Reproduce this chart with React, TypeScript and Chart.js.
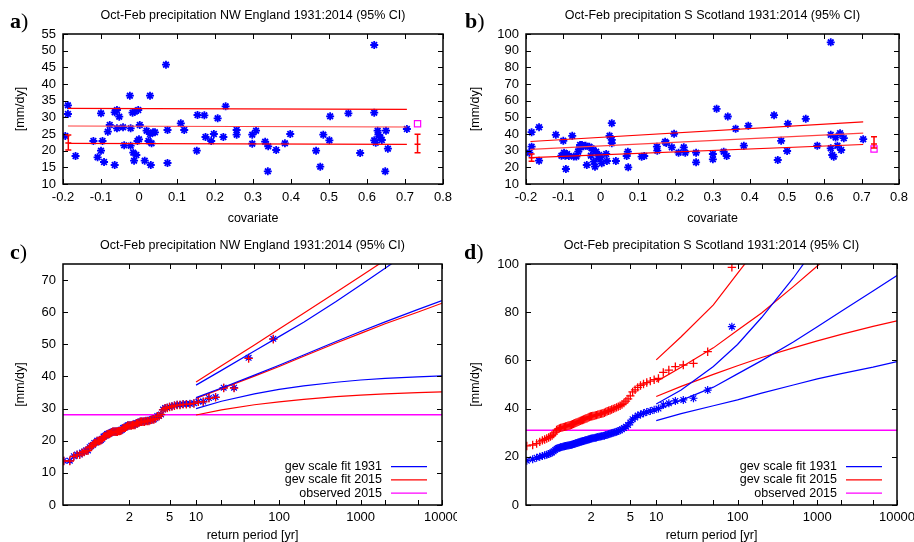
import React, { useEffect, useRef } from 'react';
import { Chart, registerables, LinearScale } from 'chart.js';

// ---------------- shared style ----------------
const FONT = "'Liberation Sans', Arial, Helvetica, sans-serif";
const FS = 12.5;
const TICK_FS = 13;
const BLUE = '#0000ff';
const RED = '#ff0000';
const RED_MID = '#ff4040';
const MAGENTA = '#ff00ff';

// ---------------- panel a: NW England, precipitation vs covariate ----------------
const nweCovariate = [
  -0.194, -0.187, -0.187, -0.167, -0.12, -0.109, -0.1, -0.1, -0.096, -0.092,
  -0.082, -0.077, -0.064, -0.064, -0.058, -0.058, -0.052, -0.042, -0.039, -0.024,
  -0.022, -0.022, -0.017, -0.015, -0.013, -0.011, -0.007, -0.002, -0.004, 0.0,
  0.002, 0.015, 0.02, 0.025, 0.029, 0.029, 0.031, 0.033, 0.037, 0.042,
  0.071, 0.075, 0.075, 0.11, 0.119, 0.152, 0.154, 0.172, 0.175, 0.19,
  0.197, 0.207, 0.222, 0.228, 0.257, 0.257, 0.298, 0.298, 0.308, 0.332,
  0.339, 0.34, 0.361, 0.384, 0.398, 0.466, 0.477, 0.485, 0.501, 0.503,
  0.551, 0.582, 0.619, 0.619, 0.619, 0.623, 0.628, 0.63, 0.635, 0.639,
  0.648, 0.65, 0.655, 0.705,
];
const nwePrecip = [
  24.4, 33.6, 31.0, 18.4, 22.9, 18.0, 31.2, 20.0, 22.9, 16.6,
  25.7, 27.7, 15.7, 31.5, 32.2, 26.7, 30.2, 27.0, 21.6, 36.5,
  26.7, 21.5, 31.4, 19.4, 17.0, 31.7, 18.7, 32.2, 22.9, 23.4,
  27.7, 17.0, 26.0, 22.9, 36.5, 25.0, 15.7, 22.2, 25.5, 25.5,
  45.8, 26.2, 16.3, 28.2, 26.2, 20.0, 30.7, 30.6, 24.1, 22.9,
  25.0, 29.7, 24.1, 33.3, 26.2, 24.8, 24.8, 22.1, 26.0, 22.7,
  13.8, 21.3, 20.2, 22.2, 25.0, 20.0, 15.2, 24.8, 23.1, 30.3,
  31.2, 19.3, 51.7, 31.4, 23.1, 22.4, 26.0, 24.8, 24.0, 23.2,
  13.8, 26.0, 20.6, 26.5,
];
const nweFitCov = [-0.187, 0.705];
const nweFitUpper = [32.7, 32.4];
const nweFitMid = [27.4, 27.1];
const nweFitLower = [22.2, 21.9];
const nweErrCov = [-0.186, 0.733];
const nweErrLow = [20.2, 19.4];
const nweErrMid = [22.3, 21.9];
const nweErrHigh = [24.7, 24.9];
const cov2015 = 0.733;
const nweObs2015 = 28.1;

// ---------------- panel b: S Scotland, precipitation vs covariate ----------------
const sscCovariate = [
  -0.191, -0.185, -0.185, -0.165, -0.165, -0.12, -0.1, -0.105, -0.098, -0.095,
  -0.093, -0.09, -0.085, -0.076, -0.072, -0.065, -0.06, -0.058, -0.055, -0.05,
  -0.046, -0.037, -0.03, -0.024, -0.02, -0.018, -0.015, -0.012, -0.006, -0.004,
  0.003, 0.015, 0.017, 0.024, 0.03, 0.03, 0.03, 0.041, 0.07, 0.073,
  0.074, 0.11, 0.117, 0.151, 0.152, 0.173, 0.176, 0.191, 0.197, 0.209,
  0.223, 0.227, 0.256, 0.256, 0.301, 0.301, 0.311, 0.33, 0.338, 0.341,
  0.362, 0.384, 0.396, 0.465, 0.475, 0.484, 0.5, 0.502, 0.55, 0.581,
  0.617, 0.617, 0.617, 0.621, 0.625, 0.63, 0.635, 0.642, 0.645, 0.652,
  0.704, -0.04, 0.0, -0.026,
];
const sscPrecip = [
  28.8, 32.4, 41.1, 44.1, 24.0, 39.5, 35.9, 27.0, 28.8, 27.0,
  19.0, 28.0, 26.8, 38.9, 26.5, 26.5, 29.4, 30.8, 33.4, 33.4,
  32.6, 21.4, 32.4, 31.4, 30.4, 23.4, 20.4, 29.4, 25.4, 27.4,
  22.4, 28.0, 23.8, 38.9, 46.5, 36.5, 34.5, 23.8, 26.8, 29.4,
  20.0, 26.4, 26.8, 32.4, 30.0, 35.4, 34.6, 32.0, 40.1, 28.8,
  32.0, 28.8, 28.8, 23.0, 28.0, 24.8, 55.1, 29.4, 26.8, 50.5,
  43.1, 33.0, 44.9, 51.3, 24.4, 35.9, 29.8, 46.1, 49.1, 33.0,
  95.0, 39.5, 31.4, 27.4, 26.4, 37.9, 33.0, 40.5, 30.4, 37.5,
  36.9, 33.0, 26.0, 27.0,
];
const sscFitCov = [-0.188, 0.704];
const sscFitUpper = [35.5, 47.3];
const sscFitMid = [30.8, 40.5];
const sscFitLower = [25.8, 33.7];
const sscErrCov = [-0.185, 0.733];
const sscErrLow = [23.6, 31.6];
const sscErrMid = [25.8, 34.0];
const sscErrHigh = [28.0, 38.4];
const sscObs2015 = 31.0;

// ---------------- axes ----------------
const covTicks = [-0.2, -0.1, 0, 0.1, 0.2, 0.3, 0.4, 0.5, 0.6, 0.7, 0.8];
const nweYTicks = [10, 15, 20, 25, 30, 35, 40, 45, 50, 55];
const sscYTicks = [10, 20, 30, 40, 50, 60, 70, 80, 90, 100];
const nweRetYTicks = [0, 10, 20, 30, 40, 50, 60, 70];
const sscRetYTicks = [0, 20, 40, 60, 80, 100];
const returnTicks = [2, 5, 10, 20, 50, 100, 200, 500, 1000, 2000, 5000, 10000];
const returnLabelled = [2, 5, 10, 100, 1000, 10000];
const returnAxisMin = 1.0107;
const returnAxisMax = 10000;

// ---------------- panels c, d: return level plots ----------------
// sorted observed values (largest first), NW England, shifted to 1931 / 2015
const nweLevels1931 = [
  51.7, 45.8, 36.5, 36.5, 33.6, 33.3, 32.2, 32.2, 31.7, 31.5,
  31.4, 31.4, 31.2, 31.2, 31.0, 30.7, 30.6, 30.3, 30.2, 29.7,
  28.2, 27.7, 27.7, 27.0, 26.7, 26.7, 26.5, 26.2, 26.2, 26.2,
  26.0, 26.0, 26.0, 26.0, 25.7, 25.5, 25.5, 25.0, 25.0, 25.0,
  24.8, 24.8, 24.8, 24.8, 24.4, 24.1, 24.1, 24.0, 23.4, 23.2,
  23.1, 23.1, 22.9, 22.9, 22.9, 22.9, 22.9, 22.7, 22.4, 22.2,
  22.2, 22.1, 21.6, 21.5, 21.3, 20.6, 20.2, 20.0, 20.0, 20.0,
  19.4, 19.3, 18.7, 18.4, 18.0, 17.0, 17.0, 16.6, 16.3, 15.7,
  15.7, 15.2, 13.8, 13.8,
];
const nweLevels2015 = [
  51.6, 45.6, 36.4, 36.4, 33.5, 33.2, 32.1, 32.1, 31.6, 31.4,
  31.3, 31.3, 31.1, 31.1, 30.9, 30.6, 30.5, 30.2, 30.1, 29.6,
  28.1, 27.6, 27.6, 26.9, 26.6, 26.6, 26.4, 26.1, 26.1, 26.1,
  25.9, 25.9, 25.9, 25.9, 25.6, 25.4, 25.4, 24.9, 24.9, 24.9,
  24.7, 24.7, 24.7, 24.7, 24.3, 24.0, 24.0, 23.9, 23.3, 23.1,
  23.0, 23.0, 22.8, 22.8, 22.8, 22.8, 22.8, 22.6, 22.3, 22.1,
  22.1, 22.0, 21.5, 21.4, 21.2, 20.5, 20.1, 19.9, 19.9, 19.9,
  19.3, 19.2, 18.6, 18.3, 17.9, 16.9, 16.9, 16.5, 16.2, 15.6,
  15.6, 15.1, 13.7, 13.7,
];
// sorted values, S Scotland, shifted to 1931 / 2015
const sscLevels1931 = [
  74.0, 47.7, 44.3, 43.6, 43.2, 42.2, 41.5, 40.0, 39.5, 39.0,
  38.6, 38.1, 37.6, 37.1, 36.3, 35.6, 34.2, 33.2, 32.5, 31.9,
  31.4, 31.0, 30.7, 30.4, 30.2, 30.0, 29.8, 29.6, 29.4, 29.2,
  29.0, 28.7, 28.6, 28.5, 28.4, 28.3, 28.2, 28.0, 27.9, 27.8,
  27.7, 27.6, 27.5, 27.3, 27.2, 27.0, 26.9, 26.8, 26.6, 26.5,
  26.3, 26.2, 26.0, 25.9, 25.7, 25.6, 25.4, 25.3, 25.1, 25.0,
  24.9, 24.8, 24.7, 24.6, 24.5, 24.4, 24.3, 24.1, 24.0, 23.8,
  23.6, 23.3, 22.8, 22.3, 21.8, 21.5, 21.2, 20.9, 20.6, 20.3,
  20.0, 19.6, 19.0, 18.4,
];
const sscLevels2015 = [
  98.6, 63.6, 58.8, 58.1, 57.4, 56.0, 55.0, 52.5, 52.0, 51.4,
  50.8, 50.2, 49.6, 48.8, 47.8, 46.9, 45.3, 44.0, 43.1, 42.3,
  41.7, 41.2, 40.8, 40.5, 40.2, 39.9, 39.6, 39.3, 39.1, 38.9,
  38.6, 38.3, 38.1, 37.9, 37.8, 37.6, 37.5, 37.3, 37.2, 37.0,
  36.9, 36.8, 36.7, 36.5, 36.3, 36.0, 35.9, 35.7, 35.5, 35.3,
  35.1, 34.9, 34.7, 34.5, 34.3, 34.1, 33.9, 33.7, 33.5, 33.3,
  33.1, 33.0, 32.9, 32.7, 32.6, 32.4, 32.3, 32.1, 32.0, 31.8,
  31.5, 31.1, 30.2, 29.4, 28.8, 28.4, 28.0, 27.6, 27.2, 26.8,
  26.2, 25.5, 24.9, 24.5,
];

// fitted return levels with 95% CI, at these return periods
const fitReturnPeriods = [10, 20, 50, 100, 200, 500, 1000, 2000, 5000, 10000];
const nweFit1931Upper = [37.3, 41.9, 47.9, 52.4, 56.9, 63.3, 68.5, 73.7, 80.6, 86.0];
const nweFit1931Mid = [33.4, 36.4, 40.4, 43.5, 46.7, 50.9, 54.0, 57.0, 60.8, 63.6];
const nweFit1931Lower = [30.0, 32.3, 34.6, 36.0, 37.1, 38.2, 38.9, 39.4, 39.9, 40.2];
const nweFit2015Upper = [38.3, 43.3, 49.8, 54.8, 59.7, 66.2, 71.2, 76.2, 82.6, 87.5];
const nweFit2015Mid = [33.2, 36.2, 40.1, 43.1, 46.3, 50.4, 53.4, 56.4, 60.0, 62.8];
const nweFit2015Lower = [28.0, 29.6, 31.2, 32.1, 32.9, 33.7, 34.2, 34.6, 35.0, 35.2];
const sscFit1931Upper = [41.9, 47.7, 57.5, 66.6, 77.8, 94.2, 108, 122, 140, 155];
const sscFit1931Mid = [39.4, 43.4, 48.9, 54.4, 59.9, 67.6, 74.0, 80.4, 88.8, 95.2];
const sscFit1931Lower = [35.0, 37.9, 41.2, 43.6, 46.4, 49.8, 52.3, 54.5, 57.2, 59.5];
const sscFit2015Upper = [60.2, 69.8, 83.0, 96.1, 109, 128, 143, 158, 178, 195];
const sscFit2015Mid = [51.2, 57.2, 65.2, 72.5, 79.7, 90.6, 99.2, 108, 119, 128];
const sscFit2015Lower = [45.0, 49.2, 54.2, 57.8, 61.2, 65.2, 68.1, 70.8, 74.1, 76.4];

const legendLabels = ['gev scale fit 1931', 'gev scale fit 2015', 'observed 2015'];
const legendColors = [BLUE, RED, MAGENTA];

const titleNWE = 'Oct-Feb precipitation NW England 1931:2014 (95% CI)';
const titleSSC = 'Oct-Feb precipitation S Scotland 1931:2014 (95% CI)';

// ---------------- Gumbel return-period scale ----------------
const gumbel = (T: number) => -Math.log(-Math.log(1 - 1 / T));

class GumbelScale extends (LinearScale as any) {
  static id = 'gumbel';
  static defaults = {};
  determineDataLimits() {
    const o: any = (this as any).options;
    (this as any).min = o.min;
    (this as any).max = o.max;
  }
  buildTicks() {
    return [];
  }
  getPixelForValue(value: number) {
    const self: any = this;
    const a = gumbel(self.min), b = gumbel(self.max);
    return self.getPixelForDecimal((gumbel(value) - a) / (b - a));
  }
  getValueForPixel(pixel: number) {
    const self: any = this;
    const a = gumbel(self.min), b = gumbel(self.max);
    const g = a + self.getDecimalForPixel(pixel) * (b - a);
    return 1 / (1 - Math.exp(-Math.exp(-g)));
  }
}

Chart.register(...registerables, GumbelScale as any);
Chart.defaults.font.family = FONT;
Chart.defaults.font.size = FS;
Chart.defaults.color = '#000';

// ---------------- plugins ----------------
const framePlugin = {
  id: 'frame',
  afterDatasetsDraw(chart: any) {
    const { ctx, chartArea } = chart;
    const { left, right, top, bottom } = chartArea;
    const x = chart.scales.x, y = chart.scales.y;
    const L = 5;
    ctx.save();
    ctx.strokeStyle = '#000';
    ctx.lineWidth = 1;
    ctx.beginPath();
    x.ticks.forEach((t: any) => {
      const px = Math.round(x.getPixelForValue(t.value)) + 0.5;
      ctx.moveTo(px, bottom); ctx.lineTo(px, bottom - L);
      ctx.moveTo(px, top); ctx.lineTo(px, top + L);
    });
    y.ticks.forEach((t: any) => {
      const py = Math.round(y.getPixelForValue(t.value)) + 0.5;
      ctx.moveTo(left, py); ctx.lineTo(left + L, py);
      ctx.moveTo(right, py); ctx.lineTo(right - L, py);
    });
    ctx.stroke();
    ctx.lineWidth = 1.5;
    ctx.strokeRect(left, top, right - left, bottom - top);
    ctx.restore();
  },
};

function errorBarPlugin(xs: number[], lo: number[], mid: number[], hi: number[]) {
  return {
    id: 'errbars',
    afterDatasetsDraw(chart: any) {
      const { ctx } = chart;
      const x = chart.scales.x, y = chart.scales.y;
      ctx.save();
      ctx.strokeStyle = RED;
      ctx.lineWidth = 1.5;
      ctx.beginPath();
      xs.forEach((xv, i) => {
        const px = x.getPixelForValue(xv);
        const pl = y.getPixelForValue(lo[i]);
        const ph = y.getPixelForValue(hi[i]);
        const pm = y.getPixelForValue(mid[i]);
        ctx.moveTo(px, pl); ctx.lineTo(px, ph);
        ctx.moveTo(px - 3, pl); ctx.lineTo(px + 3, pl);
        ctx.moveTo(px - 3, ph); ctx.lineTo(px + 3, ph);
        ctx.moveTo(px - 3, pm); ctx.lineTo(px + 3, pm);
      });
      ctx.stroke();
      ctx.restore();
    },
  };
}

const legendPlugin = {
  id: 'retLegend',
  afterDraw(chart: any) {
    const { ctx, chartArea } = chart;
    ctx.save();
    ctx.font = `${FS}px ${FONT}`;
    ctx.textAlign = 'right';
    ctx.textBaseline = 'middle';
    ctx.fillStyle = '#000';
    legendLabels.forEach((label, i) => {
      const yy = chartArea.bottom - 38.3 + i * 13.2;
      ctx.fillText(label, chartArea.right - 60, yy);
      ctx.strokeStyle = legendColors[i];
      ctx.lineWidth = 1.3;
      ctx.beginPath();
      ctx.moveTo(chartArea.right - 51, yy);
      ctx.lineTo(chartArea.right - 15, yy);
      ctx.stroke();
    });
    ctx.restore();
  },
};

// ---------------- helpers ----------------
function yAxis(min: number, max: number, ticks: number[], width: number, titlePad: number) {
  return {
    type: 'linear',
    position: 'left',
    min,
    max,
    grid: { display: false, drawTicks: false },
    border: { display: false },
    ticks: { padding: 7, autoSkip: false, color: '#000', font: { size: TICK_FS }, callback: (v: number) => String(v) },
    title: { display: true, text: '[mm/dy]', color: '#000', font: { size: FS }, padding: { top: titlePad, bottom: 0 } },
    afterBuildTicks: (s: any) => { s.ticks = ticks.map((v) => ({ value: v })); },
    afterFit: (s: any) => { s.width = width; s.paddingTop = 0; s.paddingBottom = 0; },
  };
}

function xAxis(type: string, min: number, max: number, ticks: number[], labelled: number[], height: number, title: string, titlePadBottom: number, tickPad: number) {
  return {
    type,
    position: 'bottom',
    min,
    max,
    grid: { display: false, drawTicks: false },
    border: { display: false },
    ticks: {
      padding: tickPad,
      autoSkip: false,
      maxRotation: 0,
      minRotation: 0,
      color: '#000',
      font: { size: TICK_FS },
      callback: (v: number) => (labelled.includes(v) ? String(v) : ''),
    },
    title: { display: true, text: title, color: '#000', font: { size: FS }, padding: { top: 0, bottom: titlePadBottom } },
    afterBuildTicks: (s: any) => { s.ticks = ticks.map((v) => ({ value: v })); },
    afterFit: (s: any) => { s.height = height; s.paddingLeft = 0; s.paddingRight = 0; },
  };
}

function lineDs(xs: number[], ys: number[], color: string, order = 0, width = 1.2) {
  return {
    type: 'scatter',
    showLine: true,
    data: xs.map((x, i) => ({ x, y: ys[i] })),
    borderColor: color,
    backgroundColor: color,
    borderWidth: width,
    pointRadius: 0,
    tension: 0,
    order,
  };
}

function pointsDs(xs: number[], ys: number[], style: string, color: string, radius: number, width: number, order: number, fill = true) {
  const bg = fill ? color : 'rgba(0,0,0,0)';
  return {
    type: 'scatter',
    showLine: false,
    data: xs.map((x, i) => ({ x, y: ys[i] })),
    pointStyle: style,
    pointRadius: radius,
    pointBorderWidth: width,
    pointBorderColor: color,
    pointBackgroundColor: bg,
    borderColor: color,
    backgroundColor: bg,
    order,
  };
}

const returnPeriodsOf = (levels: number[]) => levels.map((_, i) => (levels.length + 1) / (i + 1));

function baseOptions(title: string, padRight: number, scales: any) {
  return {
    responsive: false,
    animation: false,
    devicePixelRatio: 1,
    events: [],
    layout: { padding: { left: 0, right: padRight, top: 0, bottom: 0 } },
    plugins: {
      legend: { display: false },
      tooltip: { enabled: false },
      title: {
        display: true,
        text: title,
        fullSize: false,
        color: '#000',
        font: { size: FS, weight: 'normal' },
        padding: { top: 8.5, bottom: 10.5 },
      },
    },
    scales,
  };
}

// ---------------- chart configs ----------------
function scatterPanel(
  title: string, cov: number[], precip: number[], fitCov: number[], up: number[], mid: number[], lo: number[],
  obs: number, yMin: number, yMax: number, yTicks: number[], yWidth: number, yTitlePad: number, padRight: number,
  errCov: number[], errLo: number[], errMid: number[], errHi: number[],
) {
  return {
    type: 'scatter',
    data: {
      datasets: [
        lineDs(fitCov, up, RED, 0),
        lineDs(fitCov, mid, RED_MID, 0),
        lineDs(fitCov, lo, RED, 0),
        pointsDs([cov2015], [obs], 'rect', MAGENTA, 4.4, 1.2, 0, false),
        pointsDs(cov, precip, 'star', BLUE, 4, 1.8, 1),
      ],
    },
    options: baseOptions(title, padRight, {
      x: xAxis('linear', -0.2, 0.8, covTicks, covTicks, 46, 'covariate', 4, 6),
      y: yAxis(yMin, yMax, yTicks, yWidth, yTitlePad),
    }),
    plugins: [framePlugin, errorBarPlugin(errCov, errLo, errMid, errHi)],
  };
}

function returnPanel(
  title: string, lv1931: number[], lv2015: number[], obs: number,
  f1931: number[][], f2015: number[][], yMax: number, yTicks: number[], yWidth: number, yTitlePad: number, padRight: number,
) {
  return {
    type: 'scatter',
    data: {
      datasets: [
        ...f1931.map((c) => lineDs(fitReturnPeriods, c, BLUE, 0)),
        ...f2015.map((c) => lineDs(fitReturnPeriods, c, RED, 0)),
        pointsDs(returnPeriodsOf(lv2015), lv2015, 'cross', RED, 4.2, 1.3, 1),
        pointsDs(returnPeriodsOf(lv1931), lv1931, 'star', BLUE, 4, 1.2, 2),
        lineDs([returnAxisMin, returnAxisMax], [obs, obs], MAGENTA, 3, 1.6),
      ],
    },
    options: baseOptions(title, padRight, {
      x: xAxis('gumbel', returnAxisMin, returnAxisMax, returnTicks, returnLabelled, 37, 'return period [yr]', -1.5, 5),
      y: yAxis(0, yMax, yTicks, yWidth, yTitlePad),
    }),
    plugins: [framePlugin, legendPlugin],
  };
}

const configA = scatterPanel(titleNWE, nweCovariate, nwePrecip, nweFitCov, nweFitUpper, nweFitMid, nweFitLower,
  nweObs2015, 10, 55, nweYTicks, 63, 13.5, 14, nweErrCov, nweErrLow, nweErrMid, nweErrHigh);
const configB = scatterPanel(titleSSC, sscCovariate, sscPrecip, sscFitCov, sscFitUpper, sscFitMid, sscFitLower,
  sscObs2015, 10, 100, sscYTicks, 69, 11.3, 15, sscErrCov, sscErrLow, sscErrMid, sscErrHigh);
const configC = returnPanel(titleNWE, nweLevels1931, nweLevels2015, nweObs2015,
  [nweFit1931Upper, nweFit1931Mid, nweFit1931Lower], [nweFit2015Upper, nweFit2015Mid, nweFit2015Lower],
  75, nweRetYTicks, 63, 12.8, 15);
const configD = returnPanel(titleSSC, sscLevels1931, sscLevels2015, sscObs2015,
  [sscFit1931Upper, sscFit1931Mid, sscFit1931Lower], [sscFit2015Upper, sscFit2015Mid, sscFit2015Lower],
  100, sscRetYTicks, 69, 10.8, 17);

// ---------------- components ----------------
function ChartCanvas({ config, left, top, width, height }: any) {
  const ref = useRef<HTMLCanvasElement>(null);
  useEffect(() => {
    const chart = new Chart(ref.current as HTMLCanvasElement, config as any);
    return () => chart.destroy();
  }, [config]);
  return (
    <canvas
      ref={ref}
      width={width}
      height={height}
      style={{ position: 'absolute', left, top, width, height, display: 'block' }}
    />
  );
}

function PanelLetter({ text, left, top }: any) {
  return (
    <div
      style={{
        position: 'absolute',
        left,
        top,
        fontFamily: "'Liberation Serif', 'DejaVu Serif', serif",
        fontSize: 22,
        lineHeight: '22px',
        color: '#000',
        whiteSpace: 'nowrap',
      }}
    >
      <b>{text}</b>)
    </div>
  );
}

export default function App() {
  return (
    <div
      style={{
        position: 'fixed',
        left: 0,
        top: 0,
        width: 914,
        height: 542,
        background: '#fff',
        overflow: 'hidden',
      }}
    >
      <ChartCanvas config={configA} left={0} top={0} width={457} height={230} />
      <ChartCanvas config={configB} left={457} top={0} width={457} height={230} />
      <ChartCanvas config={configC} left={0} top={230} width={457} height={312} />
      <ChartCanvas config={configD} left={457} top={230} width={457} height={312} />
      <PanelLetter text="a" left={10} top={10} />
      <PanelLetter text="b" left={465} top={10} />
      <PanelLetter text="c" left={10} top={241} />
      <PanelLetter text="d" left={464} top={241} />
    </div>
  );
}
